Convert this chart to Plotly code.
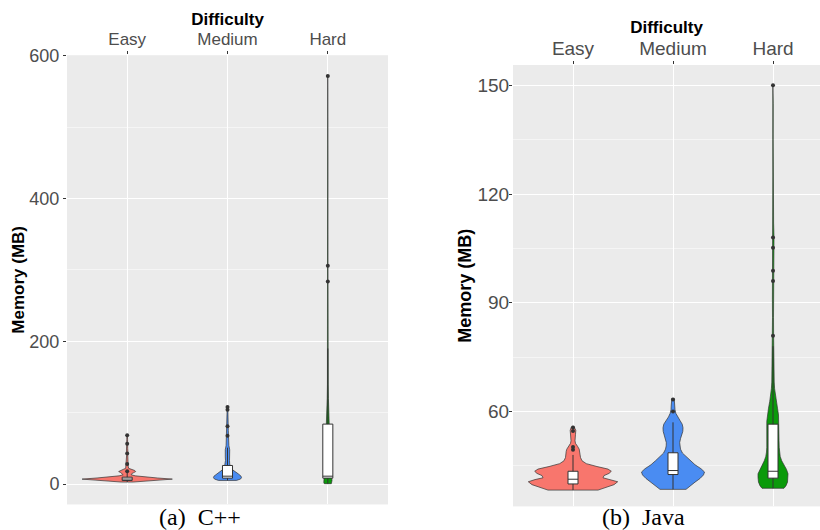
import plotly.graph_objects as go

# ---------------------------------------------------------------------------
# Data: memory use (MB) by difficulty, C++ (left) and Java (right)
# ---------------------------------------------------------------------------
categories = ["Easy", "Medium", "Hard"]
fill_colors = ["#F8766D", "#4A8CF2", "#0A9A0A"]

# Violin density profiles: memory level (MB) and half-width (category units)
cpp_easy_levels = [2.8, 4, 5.5, 6.9, 8.5, 10, 11.5, 13, 14.5, 16, 17.5, 19, 20.5,
                   22, 25, 28, 32, 40, 43, 50, 56, 62, 68.5]
cpp_easy_width = [0.06, 0.17, 0.32, 0.45, 0.30, 0.17, 0.08, 0.04, 0.045, 0.065, 0.085,
                  0.075, 0.04, 0.015, 0.01, 0.012, 0.008, 0.006, 0.008, 0.005, 0.007,
                  0.004, 0.003]

cpp_medium_levels = [5.1, 7, 9, 11, 14, 17, 20, 24, 28, 33, 38, 43, 48, 54, 60, 67,
                     75, 82, 90, 100, 108]
cpp_medium_width = [0.09, 0.13, 0.14, 0.135, 0.11, 0.08, 0.05, 0.03, 0.022, 0.02, 0.022,
                    0.025, 0.022, 0.014, 0.009, 0.01, 0.008, 0.008, 0.005, 0.005, 0.003]

cpp_hard_levels = [0.5, 2, 5, 8, 12, 20, 35, 50, 70, 85, 100, 120, 140, 170, 200,
                   250, 284, 306, 350, 450, 572]
cpp_hard_width = [0.035, 0.04, 0.042, 0.04, 0.036, 0.03, 0.024, 0.02, 0.017, 0.015,
                  0.01, 0.006, 0.004, 0.003, 0.002, 0.002, 0.002, 0.002, 0.0015,
                  0.0012, 0.001]

java_easy_levels = [38.3, 39.0, 39.8, 40.6, 41.2, 41.7, 42.3, 42.9, 43.5, 44.1, 44.8,
                    45.6, 46.4, 47.3, 48.2, 49.0, 49.6, 50.4, 51.2, 51.9, 52.8, 53.7,
                    54.8, 55.5, 55.9]
java_easy_width = [0.25, 0.33, 0.41, 0.447, 0.38, 0.30, 0.31, 0.36, 0.383, 0.35, 0.24,
                   0.133, 0.09, 0.075, 0.07, 0.068, 0.062, 0.045, 0.025, 0.02, 0.02,
                   0.025, 0.028, 0.02, 0.008]

java_medium_levels = [38.5, 39.5, 40.5, 41.5, 42.5, 43.3, 44.2, 45.3, 46.4, 47.5, 48.5,
                      49.6, 50.5, 51.4, 52.5, 53.5, 54.5, 55.5, 56.5, 57.5, 58.5, 59.5,
                      60.5, 61.5, 62.5, 63.6]
java_medium_width = [0.13, 0.17, 0.22, 0.27, 0.305, 0.315, 0.28, 0.22, 0.175, 0.13,
                     0.095, 0.075, 0.068, 0.067, 0.075, 0.088, 0.098, 0.10, 0.092, 0.07,
                     0.045, 0.028, 0.02, 0.018, 0.018, 0.012]

java_hard_levels = [38.8, 39.5, 40.5, 41.8, 42.8, 44, 45.2, 46.4, 47.6, 48.8, 50.1, 52,
                    54, 56, 57.3, 59, 60.9, 62.7, 64.5, 66.3, 68.1, 72, 76, 81, 86, 91,
                    95, 98, 101, 105, 108, 112, 118, 125, 135, 145, 150]
java_hard_width = [0.11, 0.13, 0.145, 0.15, 0.15, 0.135, 0.11, 0.087, 0.072, 0.065,
                   0.062, 0.06, 0.06, 0.062, 0.062, 0.055, 0.045, 0.033, 0.023, 0.016,
                   0.012, 0.008, 0.006, 0.006, 0.005, 0.006, 0.009, 0.011, 0.011, 0.011,
                   0.01, 0.006, 0.003, 0.002, 0.002, 0.002, 0.001]

# Box-plot summaries (Easy, Medium, Hard)
cpp_q1 = [5.0, 8.3, 8.3]
cpp_median = [7.0, 11.0, 11.0]
cpp_q3 = [9.6, 26.0, 84.0]
cpp_lower = [2.8, 5.1, 0.5]
cpp_upper = [16.0, 51.0, 190.0]

java_q1 = [40.0, 42.6, 41.6]
java_median = [41.3, 43.7, 43.5]
java_q3 = [43.5, 48.6, 56.5]
java_lower = [38.3, 38.5, 38.8]
java_upper = [48.0, 57.0, 78.0]

# Outlying observations
cpp_outliers = [[18.0, 28.0, 42.8, 56.6, 68.5],
                [67.6, 81.0, 104.0, 108.0],
                [284.0, 306.0, 572.0]]
java_outliers = [[49.4, 50.2, 54.6, 55.6],
                 [60.0, 63.3],
                 [80.9, 96.0, 98.8, 105.2, 108.0, 150.0]]

cpp_profiles = [(cpp_easy_levels, cpp_easy_width),
                (cpp_medium_levels, cpp_medium_width),
                (cpp_hard_levels, cpp_hard_width)]
java_profiles = [(java_easy_levels, java_easy_width),
                 (java_medium_levels, java_medium_width),
                 (java_hard_levels, java_hard_width)]

# ---------------------------------------------------------------------------
W, H = 820, 530
OUTLINE = "#333333"
TICK_GREY = "#4D4D4D"
SANS = "Liberation Sans, Arial, sans-serif"
SERIF = "Liberation Serif, Times New Roman, serif"

fig = go.Figure()


def add_violins(profiles, xa, ya):
    for pos, ((levels, widths), color) in enumerate(zip(profiles, fill_colors), start=1):
        xs = [pos + w for w in widths] + [pos - w for w in reversed(widths)]
        ys = list(levels) + list(reversed(levels))
        fig.add_trace(go.Scatter(
            x=xs + [xs[0]], y=ys + [ys[0]], mode="lines", fill="toself",
            fillcolor=color, line=dict(color=OUTLINE, width=0.7),
            hoverinfo="skip", showlegend=False, xaxis=xa, yaxis=ya))


def add_boxes(q1, med, q3, lo, hi, outliers, xa, ya):
    fig.add_trace(go.Box(
        x=[1, 2, 3], q1=q1, median=med, q3=q3, lowerfence=lo, upperfence=hi,
        width=0.1, whiskerwidth=0, fillcolor="white", boxpoints=False,
        line=dict(color=OUTLINE, width=1), showlegend=False, xaxis=xa, yaxis=ya))
    ox, oy = [], []
    for pos, vals in enumerate(outliers, start=1):
        ox += [pos] * len(vals)
        oy += vals
    fig.add_trace(go.Scatter(
        x=ox, y=oy, mode="markers", marker=dict(color=OUTLINE, size=4),
        showlegend=False, xaxis=xa, yaxis=ya))


add_violins(cpp_profiles, "x", "y")
add_violins(java_profiles, "x2", "y2")
add_boxes(cpp_q1, cpp_median, cpp_q3, cpp_lower, cpp_upper, cpp_outliers, "x3", "y3")
add_boxes(java_q1, java_median, java_q3, java_lower, java_upper, java_outliers, "x4", "y4")

# Panel geometry (pixels -> paper fractions)
left_x = [67 / W, 388 / W]
left_y = [(H - 504) / H, (H - 47) / H]
right_x = [513 / W, 1.0]
right_y = [(H - 506) / H, (H - 57) / H]

cpp_xrange = [0.4, 3.6]
cpp_yrange = [-28.6, 601]
java_xrange = [0.4, 3.47]
java_yrange = [33.8, 155.6]


def cat_axis(domain, rng, anchor, tick_size, label_shift, title_standoff):
    return dict(
        domain=domain, range=rng, anchor=anchor, side="top",
        tickmode="array", tickvals=[1, 2, 3], ticktext=categories,
        ticks="outside", ticklen=3, tickcolor=OUTLINE, tickwidth=1,
        ticklabelstandoff=label_shift,
        tickfont=dict(family=SANS, size=tick_size, color=TICK_GREY),
        showgrid=True, gridcolor="white", gridwidth=1.1,
        zeroline=False, showline=False,
        title=dict(text="<b>Difficulty</b>", standoff=title_standoff,
                   font=dict(family=SANS, size=17, color="black")))


def value_axis(domain, rng, anchor, dtick, tick0, tick_size, label_shift,
               title_size, standoff):
    return dict(
        domain=domain, range=rng, anchor=anchor,
        tickmode="linear", tick0=tick0, dtick=dtick,
        ticks="outside", ticklen=3, tickcolor=OUTLINE, tickwidth=1,
        ticklabelstandoff=label_shift,
        tickfont=dict(family=SANS, size=tick_size, color=TICK_GREY),
        showgrid=True, gridcolor="white", gridwidth=1.1,
        minor=dict(dtick=dtick / 2, tick0=tick0, showgrid=True,
                   gridcolor="#F5F5F5", gridwidth=0.6),
        zeroline=False, showline=False,
        title=dict(text="<b>Memory (MB)</b>", standoff=standoff,
                   font=dict(family=SANS, size=title_size, color="black")))


def overlay_axis(over, rng, anchor):
    return dict(overlaying=over, range=rng, anchor=anchor, visible=False,
                showgrid=False, zeroline=False)


fig.update_layout(
    width=W, height=H,
    margin=dict(l=0, r=0, t=0, b=0),
    paper_bgcolor="white",
    plot_bgcolor="#EBEBEB",
    showlegend=False,
    xaxis=cat_axis(left_x, cpp_xrange, "y", 17, -1, 0),
    yaxis=value_axis(left_y, cpp_yrange, "x", 200, 0, 18, 0, 17, 0),
    xaxis2=cat_axis(right_x, java_xrange, "y2", 19, -2, 0),
    yaxis2=value_axis(right_y, java_yrange, "x2", 30, 60, 19, -4, 18, 1),
    xaxis3=overlay_axis("x", cpp_xrange, "y3"),
    yaxis3=overlay_axis("y", cpp_yrange, "x3"),
    xaxis4=overlay_axis("x2", java_xrange, "y4"),
    yaxis4=overlay_axis("y2", java_yrange, "x4"),
    annotations=[
        dict(text="(a)  C++", x=200 / W, y=(H - 517) / H, xref="paper", yref="paper",
             xanchor="center", yanchor="middle", showarrow=False,
             font=dict(family=SERIF, size=24, color="black")),
        dict(text="(b)  Java", x=643 / W, y=(H - 517) / H, xref="paper", yref="paper",
             xanchor="center", yanchor="middle", showarrow=False,
             font=dict(family=SERIF, size=24, color="black")),
    ],
)

fig.write_html("out.html")
